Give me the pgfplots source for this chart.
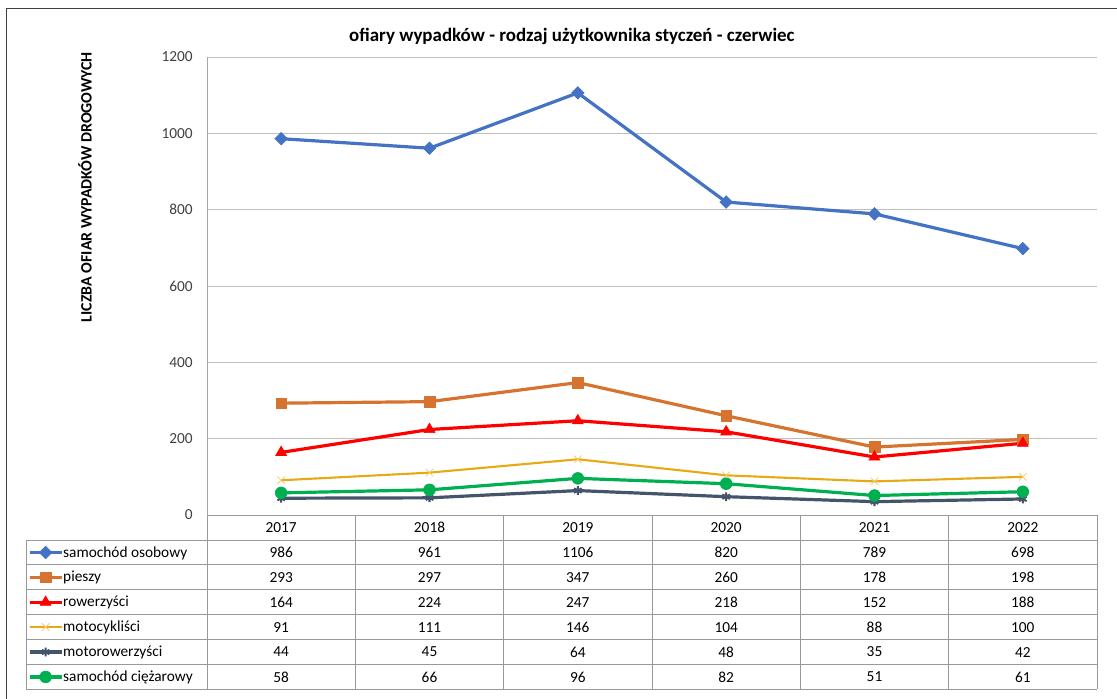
\documentclass[border=0pt]{standalone}
\usepackage{fontspec}
\setmainfont{Carlito}
\usepackage{pgfplots}
\usepackage{pgfplotstable}
\pgfplotsset{compat=1.18}

\definecolor{cOsob}{HTML}{4472C4}
\definecolor{cPiesz}{HTML}{D6742F}
\definecolor{cRow}{HTML}{FF0000}
\definecolor{cMoto}{HTML}{E8AA14}
\definecolor{cMotor}{HTML}{44546A}
\definecolor{cCiez}{HTML}{00B050}

\newcommand\tf{\fontsize{11.5}{13}\selectfont}

% ofiary wypadkow wg rodzaju uzytkownika, styczen-czerwiec
\pgfplotstableread{
idx year osob piesz row moto motor ciez
0 2017 986 293 164 91 44 58
1 2018 961 297 224 111 45 66
2 2019 1106 347 247 146 64 96
3 2020 820 260 218 104 48 82
4 2021 789 178 152 88 35 51
5 2022 698 198 188 100 42 61
}\dane

\begin{document}
\begin{tikzpicture}[font=\tf]
\useasboundingbox (0,0) rectangle (837.75pt,-524.25pt);
\begin{axis}[
    at={(155.25pt,-386.25pt)}, anchor=south west,
    scale only axis,
    width=667.5pt, height=343.5pt,
    xmin=-0.5, xmax=5.5,
    ymin=0, ymax=1200,
    xtick=\empty,
    ytick={0,200,...,1200},
    ymajorgrids,
    major grid style={black!25, line width=0.75pt},
    axis lines*=left,
    axis line style={black!35, line width=0.75pt},
    major tick length=0pt,
    yticklabel style={font=\tf, text=black!75, inner sep=0pt, xshift=-10.5pt},
    /pgf/number format/assume math mode=true,
    /pgf/number format/1000 sep={},
    title={ofiary wypadków - rodzaj użytkownika styczeń - czerwiec},
    title style={font=\fontsize{14.2}{16}\selectfont\bfseries, at={(axis description cs:0.41,1.028)}, anchor=center},
    ylabel={LICZBA OFIAR WYPADKÓW DROGOWYCH},
    ylabel style={font=\fontsize{11.9}{13}\selectfont\bfseries, at={(axis description cs:-0.137,0.716)}, anchor=center},
    legend style={at={(axis description cs:-0.2011,-0.0546)}, anchor=north west,
        draw=none, fill=none, inner sep=0pt, outer sep=0pt, row sep=0pt,
        font=\tf, nodes={inner sep=0pt, text height=12.8pt, text depth=5.875pt}},
    legend cell align=left,
    legend image code/.code={\draw[mark repeat=2,mark phase=2,#1] plot coordinates {(0pt,0pt)(12pt,0pt)(24pt,0pt)};},
]
\addplot[cOsob, line width=2.4pt, mark=square*, mark size=3.3pt, mark options={rotate=45, line width=0.5pt}] table[x=idx, y=osob] {\dane};
\addlegendentry{samochód osobowy}
\addplot[cPiesz, line width=2.4pt, mark=square*, mark size=4pt, mark options={line width=0.5pt}] table[x=idx, y=piesz] {\dane};
\addlegendentry{pieszy}
\addplot[cRow, line width=2.4pt, mark=triangle*, mark size=4.7pt, mark options={line width=0.5pt}] table[x=idx, y=row] {\dane};
\addlegendentry{rowerzyści}
\addplot[cMoto, line width=1.6pt, mark=x, mark size=4pt, mark options={line width=0.6pt, draw=cMoto!60}] table[x=idx, y=moto] {\dane};
\addlegendentry{motocykliści}
\addplot[cMotor, line width=2.4pt, mark=asterisk, mark size=3.3pt, mark options={line width=1.6pt}] table[x=idx, y=motor] {\dane};
\addlegendentry{motorowerzyści}
\addplot[cCiez, line width=2.4pt, mark=*, mark size=4.4pt, mark options={line width=0.5pt}] table[x=idx, y=ciez] {\dane};
\addlegendentry{samochód ciężarowy}
\end{axis}

\begin{scope}[x=0.75pt, y=-0.75pt]
  % ramka wykresu
  \draw[black!75, line width=1.1pt] (6.5,699) -- (6.5,8.5) -- (1117,8.5);
  % tabela danych
  \begin{scope}[black!40, line width=0.75pt]
    \draw (207,515) -- (1097,515);
    \foreach \k in {0,...,6}{
      \draw (26,{540+24.9*\k}) -- (1097,{540+24.9*\k});
      \draw ({207+148.333*\k},515) -- ({207+148.333*\k},689.4);
    }
    \draw (26,540) -- (26,689.4);
  \end{scope}
  \foreach \k/\yr in {0/2017,1/2018,2/2019,3/2020,4/2021,5/2022}
    \node at ({207+148.333*(\k+0.5)},527.5) {\yr};
  \foreach \c [count=\j from 0] in {osob,piesz,row,moto,motor,ciez}{
    \foreach \i in {0,...,5}{
      \pgfplotstablegetelem{\i}{\c}\of\dane
      \node at ({207+148.333*(\i+0.5)},{552.45+24.9*\j}) {\pgfplotsretval};
    }
  }
\end{scope}
\end{tikzpicture}
\end{document}
